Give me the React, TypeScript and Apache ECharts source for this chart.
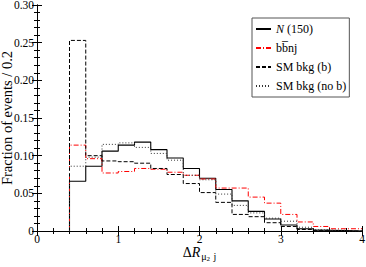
import React, { useEffect, useRef } from "react";
import * as echarts from "echarts";

const binStart = 0.4;
const binWidth = 0.2;
const seriesNames = ["N (150)", "bb\u0305nj", "SM bkg (b)", "SM bkg (no b)"];
const nValues = [0.066, 0.086, 0.106, 0.114, 0.118, 0.108, 0.097, 0.083, 0.070, 0.055, 0.040, 0.026, 0.016, 0.008, 0.003, 0.001, 0.0005, 0];
const bbnjValues = [0.114, 0.096, 0.077, 0.079, 0.083, 0.082, 0.078, 0.074, 0.069, 0.057, 0.057, 0.045, 0.037, 0.022, 0.012, 0.006, 0.003, 0.003];
const smbValues = [0.253, 0.100, 0.093, 0.092, 0.090, 0.083, 0.075, 0.063, 0.051, 0.038, 0.022, 0.019, 0.011, 0.006, 0.002, 0.001, 0, 0];
const smnobValues = [0.086, 0.098, 0.115, 0.117, 0.111, 0.103, 0.094, 0.074, 0.068, 0.049, 0.034, 0.024, 0.017, 0.013, 0.005, 0.002, 0.001, 0];
const xTicks = [0, 1, 2, 3, 4];
const yTicks = [0, 0.05, 0.1, 0.15, 0.2, 0.25, 0.3];

function outline(vals: number[]): number[][] {
  const pts: number[][] = [];
  const r = (v: number) => Math.round(v * 1000) / 1000;
  pts.push([binStart, 0]);
  vals.forEach((v, i) => {
    const a = r(binStart + i * binWidth);
    const b = r(binStart + (i + 1) * binWidth);
    pts.push([a, v]);
    pts.push([b, v]);
  });
  return pts;
}

const FONT = "Liberation Serif";

export default function App() {
  const ref = useRef<HTMLDivElement>(null);
  useEffect(() => {
    if (!ref.current) return;
    const chart = echarts.init(ref.current, null, { renderer: "svg" });
    const axisCommon = {
      axisLine: { show: true, lineStyle: { color: "#000", width: 1 } },
      splitLine: { show: false },
    };
    const mkSeries = (name: string, vals: number[], color: string, type: any, width: number) => ({
      name,
      type: "line",
      data: outline(vals),
      showSymbol: false,
      symbol: "none",
      lineStyle: { color, type, width },
      itemStyle: { color },
      z: 3,
    });
    chart.setOption({
      animation: false,
      grid: { left: 37, right: 4, top: 5, bottom: 36, containLabel: false, outerBoundsMode: "none" },
      xAxis: [
        {
          type: "value",
          min: xTicks[0],
          max: xTicks[xTicks.length - 1],
          interval: 1,
          ...axisCommon,
          axisTick: { show: true, inside: true, length: 5, lineStyle: { color: "#000" } },
          minorTick: { show: true, splitNumber: 5, length: 3, lineStyle: { color: "#000" } },
          axisLabel: { color: "#000", fontFamily: FONT, fontSize: 11.5, margin: 2, lineHeight: 11 },
          name: "{a|\u0394}{i|R}{s|\u03bc}{ss|2}{s| j}",
          nameLocation: "middle",
          nameGap: 15,
          nameMoveOverlap: false,
          nameTextStyle: {
            verticalAlign: "top",
            rich: {
              a: { fontFamily: FONT, fontSize: 14, lineHeight: 12, color: "#000" },
              i: { fontFamily: FONT, fontSize: 14, lineHeight: 12, fontStyle: "italic", color: "#000" },
              s: { fontFamily: FONT, fontSize: 10, lineHeight: 10, color: "#000", padding: [8, 0, 0, 1] },
              ss: { fontFamily: FONT, fontSize: 7, lineHeight: 7, color: "#000", padding: [13, 0, 0, 0] },
            },
          },
        },
        {
          type: "value",
          position: "top",
          min: 0,
          max: 4,
          interval: 1,
          ...axisCommon,
          axisTick: { show: true, inside: true, length: 5, lineStyle: { color: "#000" } },
          minorTick: { show: true, splitNumber: 5, length: 3, lineStyle: { color: "#000" } },
          axisLabel: { show: false },
        },
      ],
      yAxis: [
        {
          type: "value",
          min: yTicks[0],
          max: yTicks[yTicks.length - 1],
          interval: 0.05,
          ...axisCommon,
          axisTick: { show: true, inside: true, length: 5, lineStyle: { color: "#000" } },
          minorTick: { show: true, splitNumber: 5, length: 3, lineStyle: { color: "#000" } },
          axisLabel: {
            color: "#000",
            fontFamily: FONT,
            fontSize: 11.5,
            margin: 3,
            formatter: (v: number) => (v === 0 ? "0" : v.toFixed(2)),
          },
          name: "Fraction of events / 0.2",
          nameLocation: "middle",
          nameGap: 23,
          nameMoveOverlap: false,
          nameTextStyle: { fontFamily: FONT, fontSize: 14.5, color: "#000" },
        },
        {
          type: "value",
          position: "right",
          min: 0,
          max: 0.3,
          interval: 0.05,
          ...axisCommon,
          axisTick: { show: true, inside: true, length: 5, lineStyle: { color: "#000" } },
          minorTick: { show: true, splitNumber: 5, length: 3, lineStyle: { color: "#000" } },
          axisLabel: { show: false },
        },
      ],
      legend: {
        show: true,
        orient: "vertical",
        left: 252,
        top: 18,
        itemWidth: 15,
        itemHeight: 12,
        itemGap: 7,
        padding: [5, 3, 5, 3],
        borderColor: "#555",
        borderWidth: 1,
        backgroundColor: "#fff",
        data: seriesNames,
        itemStyle: { opacity: 0 },
        lineStyle: { inherit: true },
        formatter: (name: string) => (name === seriesNames[0] ? "{i|N} (150)" : name),
        textStyle: {
          fontFamily: FONT,
          fontSize: 12,
          color: "#000",
          rich: { i: { fontFamily: FONT, fontSize: 12, fontStyle: "italic", color: "#000" } },
        },
      },
      series: [
        mkSeries(seriesNames[0], nValues, "#000", "solid", 1.1),
        mkSeries(seriesNames[1], bbnjValues, "#ff0000", [5, 2, 1, 2], 1),
        mkSeries(seriesNames[2], smbValues, "#000", [4, 2], 1),
        mkSeries(seriesNames[3], smnobValues, "#333", [1, 2], 1),
      ],
    });
    return () => chart.dispose();
  }, []);
  return <div ref={ref} style={{ width: 366, height: 267, position: "absolute", left: 0, top: 0 }} />;
}
